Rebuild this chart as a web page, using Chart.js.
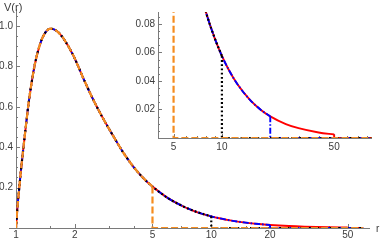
<!DOCTYPE html>
<html>
<head>
<meta charset="utf-8">
<script src="https://cdn.jsdelivr.net/npm/chart.js@4.4.1/dist/chart.umd.min.js"></script>
<style>
	html, body { margin: 0; padding: 0; background: #fff; }
	#wrap { position: relative; width: 383px; height: 240px; }
	#main { position: absolute; left: 0; top: 0; }
	#inset { position: absolute; left: 120px; top: 0; }
</style>
</head>
<body>
<div id="wrap">
	<canvas id="main" width="383" height="240"></canvas>
	<canvas id="inset" width="263" height="156"></canvas>
</div>
<script>
// values
const rValues = [1, 1.015, 1.036, 1.06, 1.09, 1.12, 1.155, 1.2, 1.25, 1.33, 1.41, 1.5, 1.62, 1.75, 1.97, 2.21, 2.49, 2.8, 3.15, 3.55, 4, 4.5, 5, 6, 7.2, 8, 9, 10, 11, 12.5, 15, 17.5, 20, 25, 30, 40, 50];
const vValues = [0, 0.09, 0.185, 0.285, 0.392, 0.493, 0.603, 0.715, 0.812, 0.912, 0.966, 0.987, 0.975, 0.938, 0.852, 0.742, 0.634, 0.54, 0.455, 0.372, 0.302, 0.246, 0.205, 0.148, 0.1065, 0.0874, 0.0703, 0.0576, 0.0481, 0.0377, 0.0266, 0.0197, 0.0152, 0.0098, 0.0069, 0.0039, 0.0025];

// cut-off radius of each curve: red, blue, black, orange
const cutoffs = [50, 20, 10, 5];

const mainXTicks = [1, 2, 5, 10, 20, 50];
const mainXMinor = [1.5, 3, 4, 7, 15, 30, 40];
const mainYTicks = [0.2, 0.4, 0.6, 0.8, 1.0];
const mainYMinor = [0.05, 0.1, 0.15, 0.25, 0.3, 0.35, 0.45, 0.5, 0.55, 0.65, 0.7, 0.75, 0.85, 0.9, 0.95, 1.05];

const insetXTicks = [5, 10, 50];
const insetXMinor = [6, 7, 8, 9, 20, 30, 40, 60, 70, 80];
const insetYTicks = [0.02, 0.04, 0.06, 0.08];
const insetYMinor = [0.005, 0.01, 0.015, 0.025, 0.03, 0.035, 0.045, 0.05, 0.055, 0.065, 0.07, 0.075, 0.085];

const axisColor = '#7a7a7a';
const labelColor = '#3c3c3c';

const lineStyles = [
	{ color: 'rgb(255, 0, 0)', dash: [], width: 1.9 },
	{ color: 'rgb(0, 0, 255)', dash: [6, 2, 1.5, 2], width: 1.9 },
	{ color: 'rgb(0, 0, 0)', dash: [1.8, 2.4], width: 2.2 },
	{ color: 'rgb(245, 140, 30)', dash: [7, 3], width: 2.2 }
];

Chart.defaults.font.family = '"Liberation Sans", Arial, sans-serif';
Chart.defaults.font.size = 10;
Chart.defaults.color = labelColor;

function buildDatasets(rEnd) {
	const sets = [];
	cutoffs.forEach((cut, k) => {
		const style = lineStyles[k];
		const curve = [];
		rValues.forEach((r, i) => {
			if (r <= cut) curve.push({ x: r, y: vValues[i] });
		});
		const last = curve[curve.length - 1];
		const tail = [{ x: cut, y: last.y }, { x: cut, y: 0 }, { x: rEnd, y: 0 }];
		const common = {
			borderColor: style.color,
			borderDash: style.dash,
			borderWidth: style.width,
			pointRadius: 0,
			fill: false,
			order: cutoffs.length - 1 - k
		};
		sets.push(Object.assign({ data: curve, cubicInterpolationMode: 'monotone' }, common));
		sets.push(Object.assign({ data: tail, tension: 0 }, common));
	});
	return sets;
}

function axesPlugin(xMajor, xMinor, yMajor, yMinor, xExtend) {
	return {
		id: 'mmaAxes',
		beforeDatasetsDraw(chart) {
			const { ctx, chartArea: a, scales: { x, y } } = chart;
			ctx.save();
			ctx.strokeStyle = axisColor;
			ctx.lineWidth = 1;
			ctx.beginPath();
			ctx.moveTo(a.left - xExtend, Math.round(a.bottom) + 0.5);
			ctx.lineTo(a.right, Math.round(a.bottom) + 0.5);
			ctx.moveTo(Math.round(a.left) + 0.5, a.bottom);
			ctx.lineTo(Math.round(a.left) + 0.5, a.top);
			xMajor.forEach(v => {
				const px = Math.round(x.getPixelForValue(v)) + 0.5;
				ctx.moveTo(px, a.bottom); ctx.lineTo(px, a.bottom - 4);
			});
			xMinor.forEach(v => {
				const px = Math.round(x.getPixelForValue(v)) + 0.5;
				if (px > a.right) return;
				ctx.moveTo(px, a.bottom); ctx.lineTo(px, a.bottom - 2);
			});
			yMajor.forEach(v => {
				const py = Math.round(y.getPixelForValue(v)) + 0.5;
				ctx.moveTo(a.left, py); ctx.lineTo(a.left + 4, py);
			});
			yMinor.forEach(v => {
				const py = Math.round(y.getPixelForValue(v)) + 0.5;
				if (py < a.top) return;
				ctx.moveTo(a.left, py); ctx.lineTo(a.left + 2, py);
			});
			ctx.stroke();
			ctx.restore();
		}
	};
}

function makeOptions(cfg) {
	return {
		responsive: false,
		devicePixelRatio: 1,
		animation: false,
		events: [],
		layout: { padding: cfg.padding },
		plugins: { legend: { display: false }, tooltip: { enabled: false } },
		scales: {
			x: {
				type: 'logarithmic',
				min: cfg.xMin,
				max: cfg.xMax,
				afterBuildTicks: s => { s.ticks = cfg.xTicks.map(v => ({ value: v })); },
				afterFit: s => { s.height = cfg.xHeight; },
				grid: { display: false, drawTicks: false },
				border: { display: false },
				ticks: {
					autoSkip: false,
					maxRotation: 0,
					padding: cfg.xPad,
					color: labelColor,
					callback: v => String(v)
				}
			},
			y: {
				type: 'linear',
				min: 0,
				max: cfg.yMax,
				afterBuildTicks: s => { s.ticks = cfg.yTicks.map(v => ({ value: v })); },
				afterFit: s => { s.width = cfg.yWidth; },
				grid: { display: false, drawTicks: false },
				border: { display: false },
				ticks: {
					autoSkip: false,
					padding: 3,
					color: labelColor,
					callback: v => cfg.yFmt(v)
				}
			}
		}
	};
}

const textPlugin = {
	id: 'axisTitles',
	afterDraw(chart) {
		const ctx = chart.ctx;
		ctx.save();
		ctx.fillStyle = labelColor;
		ctx.font = '11px "Liberation Sans", Arial, sans-serif';
		ctx.textBaseline = 'middle';
		ctx.fillText('V(r)', 4, 8);
		ctx.font = '10px "Liberation Sans", Arial, sans-serif';
		ctx.fillText('r', 376, 229);
		ctx.restore();
	}
};

new Chart(document.getElementById('main'), {
	type: 'line',
	data: { datasets: buildDatasets(60) },
	options: makeOptions({
		padding: { left: 0, top: 8, right: 13, bottom: 0 },
		xMin: 1, xMax: 65, xTicks: mainXTicks, xHeight: 12, xPad: 1,
		yMax: 1.084, yTicks: mainYTicks, yWidth: 16,
		yFmt: v => v.toFixed(1)
	}),
	plugins: [axesPlugin(mainXTicks, mainXMinor, mainYTicks, mainYMinor, 7), textPlugin]
});

new Chart(document.getElementById('inset'), {
	type: 'line',
	data: { datasets: buildDatasets(86) },
	options: makeOptions({
		padding: { left: 0, top: 12, right: 11, bottom: 0 },
		xMin: 4, xMax: 86, xTicks: insetXTicks, xHeight: 18, xPad: 3,
		yMax: 0.0884, yTicks: insetYTicks, yWidth: 38,
		yFmt: v => v.toFixed(2)
	}),
	plugins: [axesPlugin(insetXTicks, insetXMinor, insetYTicks, insetYMinor, 0)]
});
</script>
</body>
</html>
